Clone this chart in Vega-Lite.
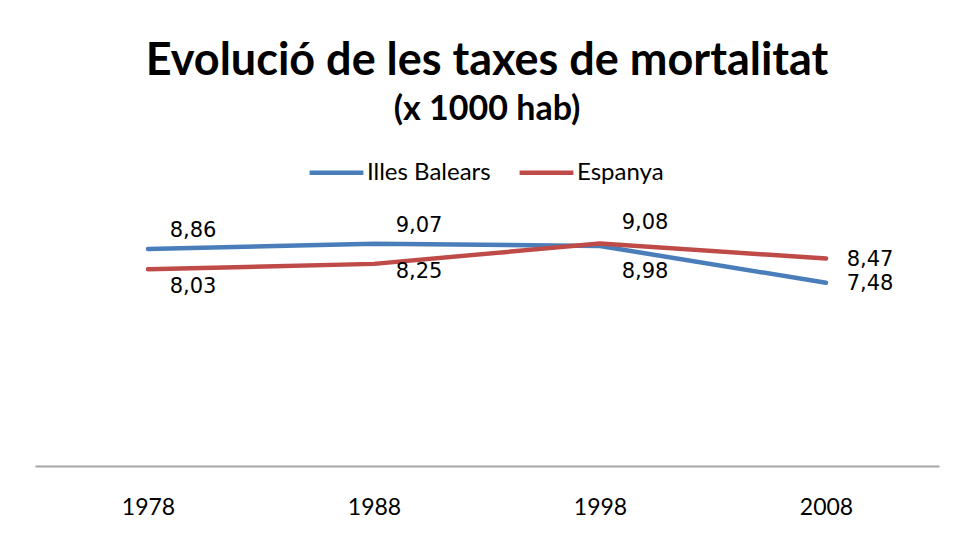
{
  "$schema": "https://vega.github.io/schema/vega-lite/v6.json",
  "width": 904,
  "height": 245,
  "autosize": "none",
  "padding": {"left": 35, "top": 221, "right": 17, "bottom": 69},
  "background": "white",
  "config": {
    "locale": {"number": {"decimal": ",", "thousands": ".", "grouping": [3], "currency": ["", " €"]}},
    "view": {"stroke": null},
    "font": "Lato"
  },
  "title": {
    "text": "Evolució de les taxes de mortalitat",
    "subtitle": "(x 1000 hab)",
    "anchor": "middle",
    "font": "Lato",
    "fontSize": 45,
    "fontWeight": "bold",
    "color": "#000000",
    "subtitleFont": "Lato",
    "subtitleFontSize": 34,
    "subtitleFontWeight": "bold",
    "subtitleColor": "#000000",
    "subtitlePadding": 9,
    "offset": 16
  },
  "data": {
    "values": [
      {"year": "1978", "series": "Illes Balears", "value": 8.86},
      {"year": "1988", "series": "Illes Balears", "value": 9.07},
      {"year": "1998", "series": "Illes Balears", "value": 8.98},
      {"year": "2008", "series": "Illes Balears", "value": 7.48},
      {"year": "1978", "series": "Espanya", "value": 8.03},
      {"year": "1988", "series": "Espanya", "value": 8.25},
      {"year": "1998", "series": "Espanya", "value": 9.08},
      {"year": "2008", "series": "Espanya", "value": 8.47}
    ]
  },
  "encoding": {
    "x": {
      "field": "year",
      "type": "ordinal",
      "scale": {"type": "point", "padding": 0.5},
      "axis": {
        "title": null,
        "labelAngle": 0,
        "ticks": false,
        "domainColor": "#a6a6a6",
        "domainWidth": 2,
        "labelFont": "Lato",
        "labelFontSize": 23,
        "labelColor": "#000000",
        "labelPadding": 30
      }
    },
    "y": {
      "field": "value",
      "type": "quantitative",
      "scale": {"domain": [0, 10], "zero": true, "nice": false},
      "axis": null
    }
  },
  "layer": [
    {
      "mark": {"type": "line", "strokeWidth": 4.5, "strokeCap": "round", "strokeJoin": "round"},
      "encoding": {
        "color": {
          "field": "series",
          "type": "nominal",
          "scale": {"domain": ["Illes Balears", "Espanya"], "range": ["#4a7ebb", "#be4b48"]},
          "legend": {
            "title": null,
            "orient": "none",
            "direction": "horizontal",
            "legendX": 272,
            "legendY": -78,
            "symbolType": "stroke",
            "symbolSize": 2900,
            "symbolStrokeWidth": 4.5,
            "labelFont": "Lato",
            "labelFontSize": 24,
            "labelColor": "#000000",
            "labelOffset": 1,
            "columnPadding": 19,
            "padding": 0
          }
        }
      }
    },
    {
      "transform": [{"filter": "datum.series === 'Illes Balears' && (datum.year === '1978' || datum.year === '1988')"}],
      "mark": {"type": "text", "font": "DejaVu Sans", "fontSize": 21, "dx": 45, "dy": -18, "baseline": "middle", "color": "#000000"},
      "encoding": {"text": {"field": "value", "type": "quantitative", "format": ".2f"}}
    },
    {
      "transform": [{"filter": "datum.series === 'Illes Balears' && datum.year === '1998'"}],
      "mark": {"type": "text", "font": "DejaVu Sans", "fontSize": 21, "dx": 45, "dy": 26, "baseline": "middle", "color": "#000000"},
      "encoding": {"text": {"field": "value", "type": "quantitative", "format": ".2f"}}
    },
    {
      "transform": [{"filter": "datum.series === 'Espanya' && datum.year === '1978'"}],
      "mark": {"type": "text", "font": "DejaVu Sans", "fontSize": 21, "dx": 45, "dy": 18, "baseline": "middle", "color": "#000000"},
      "encoding": {"text": {"field": "value", "type": "quantitative", "format": ".2f"}}
    },
    {
      "transform": [{"filter": "datum.series === 'Espanya' && datum.year === '1988'"}],
      "mark": {"type": "text", "font": "DejaVu Sans", "fontSize": 21, "dx": 45, "dy": 8.5, "baseline": "middle", "color": "#000000"},
      "encoding": {"text": {"field": "value", "type": "quantitative", "format": ".2f"}}
    },
    {
      "transform": [{"filter": "datum.series === 'Espanya' && datum.year === '1998'"}],
      "mark": {"type": "text", "font": "DejaVu Sans", "fontSize": 21, "dx": 45, "dy": -21, "baseline": "middle", "color": "#000000"},
      "encoding": {"text": {"field": "value", "type": "quantitative", "format": ".2f"}}
    },
    {
      "transform": [{"filter": "datum.year === '2008'"}],
      "mark": {"type": "text", "font": "DejaVu Sans", "fontSize": 21, "dx": 44, "dy": 1.5, "baseline": "middle", "color": "#000000"},
      "encoding": {"text": {"field": "value", "type": "quantitative", "format": ".2f"}}
    }
  ]
}
